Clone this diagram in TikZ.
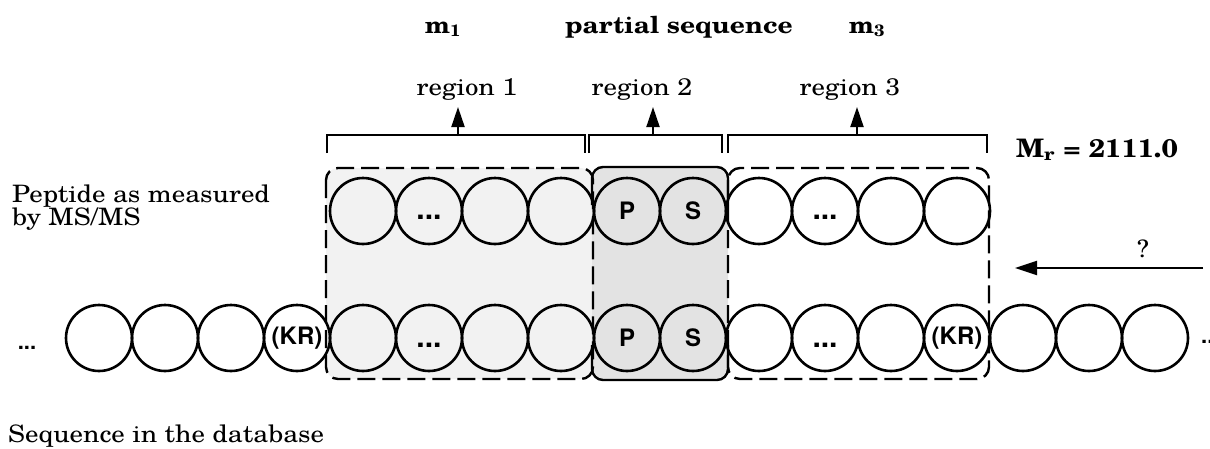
\documentclass[tikz,border=0pt]{standalone}
\usepackage{fontspec}
\setmainfont{texgyreschola-regular.otf}[BoldFont=texgyreschola-bold.otf,FakeStretch=1.12]
\newfontfamily\hvb{texgyreheros-bold.otf}
\usetikzlibrary{arrows.meta}

\tikzset{
  res/.style={circle, draw, line width=2.6pt, minimum size=66pt, inner sep=0pt,
              font=\hvb\fontsize{24}{24}\selectfont},
  dots/.style={inner sep=0pt, font=\hvb\fontsize{30}{30}\selectfont},
  outdots/.style={inner sep=0pt, font=\hvb\fontsize{22}{22}\selectfont},
  dashbox/.style={line width=2.4pt, dash pattern=on 18pt off 7pt, rounded corners=12pt},
  solidbox/.style={line width=2.4pt, rounded corners=11pt},
  brace/.style={line width=2pt},
  uparrow/.style={line width=2pt, -{Triangle[length=20pt,width=13pt]}},
  lbl/.style={inner sep=0pt, anchor=base, font=\fontsize{24}{24}\selectfont},
  blbl/.style={inner sep=0pt, anchor=base, font=\bfseries\fontsize{23.5}{24}\selectfont},
  side/.style={inner sep=0pt, anchor=base west, font=\fontsize{24}{24}\selectfont}
}

\begin{document}
\begin{tikzpicture}[x=1pt, y=-1pt]
\useasboundingbox (0,0) rectangle (1210,448);
\clip (0,0) rectangle (1210,448);

% shaded regions behind the residues
\fill[gray!10, rounded corners=12pt] (326,168) rectangle (593,379);
\fill[gray!22, rounded corners=11pt] (592,167) rectangle (728,380);

% region 2: solid outline above and below
\draw[solidbox] (592,205) -- (592,167) -- (728,167) -- (728,205);
\draw[solidbox] (592,345) -- (592,380) -- (728,380) -- (728,345);

% regions 1 and 3: dashed outlines
\draw[dashbox] (326,168) rectangle (593,379);
\draw[dashbox] (728,168) rectangle (989,379);

% peptide measured by MS/MS (upper row)
\foreach \i/\x/\t in {0/363/, 1/429/, 2/495/, 3/561/, 4/627/P, 5/693/S, 6/759/, 7/825/, 8/891/, 9/957/}
  \node[res] (t\i) at (\x,211) {\t};
\node[dots] (td1) at (429,217) {...};
\node[dots] (td2) at (825,217) {...};

% sequence in the database (lower row)
\foreach \i/\x/\t in {0/99/, 1/165/, 2/231/, 3/297/(KR), 4/363/, 5/429/, 6/495/, 7/561/,
                      8/627/P, 9/693/S, 10/759/, 11/825/, 12/891/, 13/957/(KR),
                      14/1023/, 15/1089/, 16/1155/}
  \node[res] (b\i) at (\x,338) {\t};
\node[dots] (bd1) at (429,345) {...};
\node[dots] (bd2) at (825,345) {...};
\node[outdots] (lend) at (27,348) {...};
\node[outdots, anchor=west] (rend) at (1201,342) {...};

% brackets over the three regions
\draw[brace] (327,153) -- (327,135) -- (585,135) -- (585,153);
\draw[brace] (589,153) -- (589,135) -- (722,135) -- (722,153);
\draw[brace] (728,153) -- (728,135) -- (987,135) -- (987,153);

\coordinate (a1) at (458,136);
\coordinate (a1t) at (458,107);
\coordinate (a2) at (653,136);
\coordinate (a2t) at (653,107);
\coordinate (a3) at (857,136);
\coordinate (a3t) at (857,107);
\draw[uparrow] (a1) -- (a1t);
\draw[uparrow] (a2) -- (a2t);
\draw[uparrow] (a3) -- (a3t);

% labels
\node[lbl] (r1) at (467,95) {region 1};
\node[lbl] (r2) at (642,95) {region 2};
\node[lbl] (r3) at (850,95) {region 3};
\node[blbl] (m1) at (443,33) {m\textsubscript{1}};
\node[blbl] (ps) at (679,33) {partial sequence};
\node[blbl] (m3) at (867,33) {m\textsubscript{3}};
\node[blbl, anchor=base west, font=\bfseries\fontsize{25.5}{26}\selectfont] (mr) at (1016,157) {M\textsubscript{r} = 2111.0};

\node[side] (pep1) at (12,202) {Peptide as measured};
\node[side] (pep2) at (12,225) {by MS/MS};
\node[side] (seq) at (8,442) {Sequence in the database};

% direction of the search
\coordinate (qs) at (1203,268);
\coordinate (qe) at (1015,268);
\draw[line width=2pt, -{Triangle[length=22pt,width=14pt]}] (qs) -- (qe);
\node[inner sep=0pt, font=\fontsize{24}{24}\selectfont] (q) at (1143,249) {?};
\end{tikzpicture}
\end{document}
